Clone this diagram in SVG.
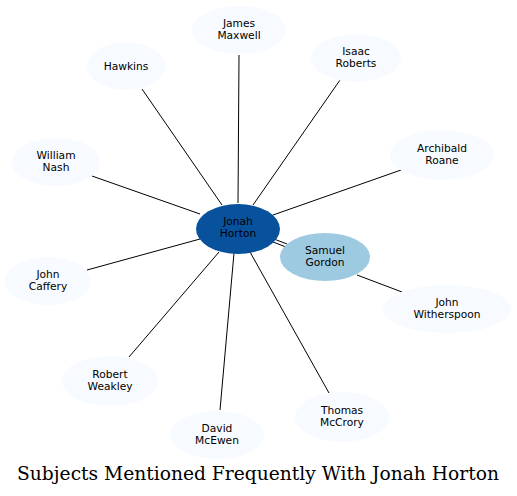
<svg xmlns="http://www.w3.org/2000/svg" width="517" height="496" viewBox="0 0 517 496">
<style>
.n ellipse{fill:#f7fbff;stroke:none}
.n text{font-family:"DejaVu Sans",sans-serif;font-size:10.67px;text-anchor:middle;fill:#000}
.e line{stroke:#000;stroke-width:1}
.t{font-family:"DejaVu Serif",serif;font-size:18.67px;text-anchor:middle;fill:#000}
</style>
<rect width="517" height="496" fill="#fff"/>
<g id="edges" class="e">
<line x1="238" y1="203" x2="239" y2="55"/>
<line x1="222" y1="205" x2="142" y2="89"/>
<line x1="253" y1="205" x2="340" y2="80"/>
<line x1="200" y1="214" x2="92" y2="176"/>
<line x1="273" y1="215" x2="401" y2="170"/>
<line x1="200" y1="239" x2="87" y2="270"/>
<line x1="219" y1="252" x2="129" y2="357"/>
<line x1="234" y1="253" x2="220" y2="410"/>
<line x1="250" y1="252" x2="329" y2="393"/>
<line x1="274" y1="239" x2="287" y2="244"/>
<line x1="273" y1="242" x2="286" y2="247"/>
<line x1="357" y1="275" x2="402" y2="292"/>
</g>
<g id="james" class="n"><ellipse cx="239" cy="30" rx="47" ry="24"/><text x="239" y="27">James</text><text x="239" y="39">Maxwell</text></g>
<g id="isaac" class="n"><ellipse cx="356" cy="58" rx="45" ry="24"/><text x="356" y="55">Isaac</text><text x="356" y="67">Roberts</text></g>
<g id="hawkins" class="n"><ellipse cx="126" cy="66" rx="39" ry="24"/><text x="126" y="70">Hawkins</text></g>
<g id="william" class="n"><ellipse cx="56" cy="162" rx="44" ry="24"/><text x="56" y="159">William</text><text x="56" y="171">Nash</text></g>
<g id="archibald" class="n"><ellipse cx="442" cy="155" rx="52" ry="25"/><text x="442" y="152">Archibald</text><text x="442" y="164">Roane</text></g>
<g id="caffery" class="n"><ellipse cx="48" cy="281" rx="43" ry="24"/><text x="48" y="278">John</text><text x="48" y="290">Caffery</text></g>
<g id="witherspoon" class="n"><ellipse cx="447" cy="309" rx="64" ry="24"/><text x="447" y="306">John</text><text x="447" y="318">Witherspoon</text></g>
<g id="weakley" class="n"><ellipse cx="110" cy="381" rx="48" ry="25"/><text x="110" y="378">Robert</text><text x="110" y="390">Weakley</text></g>
<g id="mcewen" class="n"><ellipse cx="217" cy="435" rx="47" ry="24"/><text x="217" y="432">David</text><text x="217" y="444">McEwen</text></g>
<g id="mccrory" class="n"><ellipse cx="342" cy="417" rx="47" ry="25"/><text x="342" y="414">Thomas</text><text x="342" y="426">McCrory</text></g>
<g id="gordon" class="n"><ellipse cx="325" cy="257" rx="45" ry="24" style="fill:#9ecae1"/><text x="325" y="254">Samuel</text><text x="325" y="266">Gordon</text></g>
<g id="horton" class="n"><ellipse cx="238" cy="229" rx="42" ry="25" style="fill:#08519c"/><text x="238" y="225">Jonah</text><text x="238" y="237">Horton</text></g>
<text class="t" x="258" y="480">Subjects Mentioned Frequently With Jonah Horton</text>
</svg>
